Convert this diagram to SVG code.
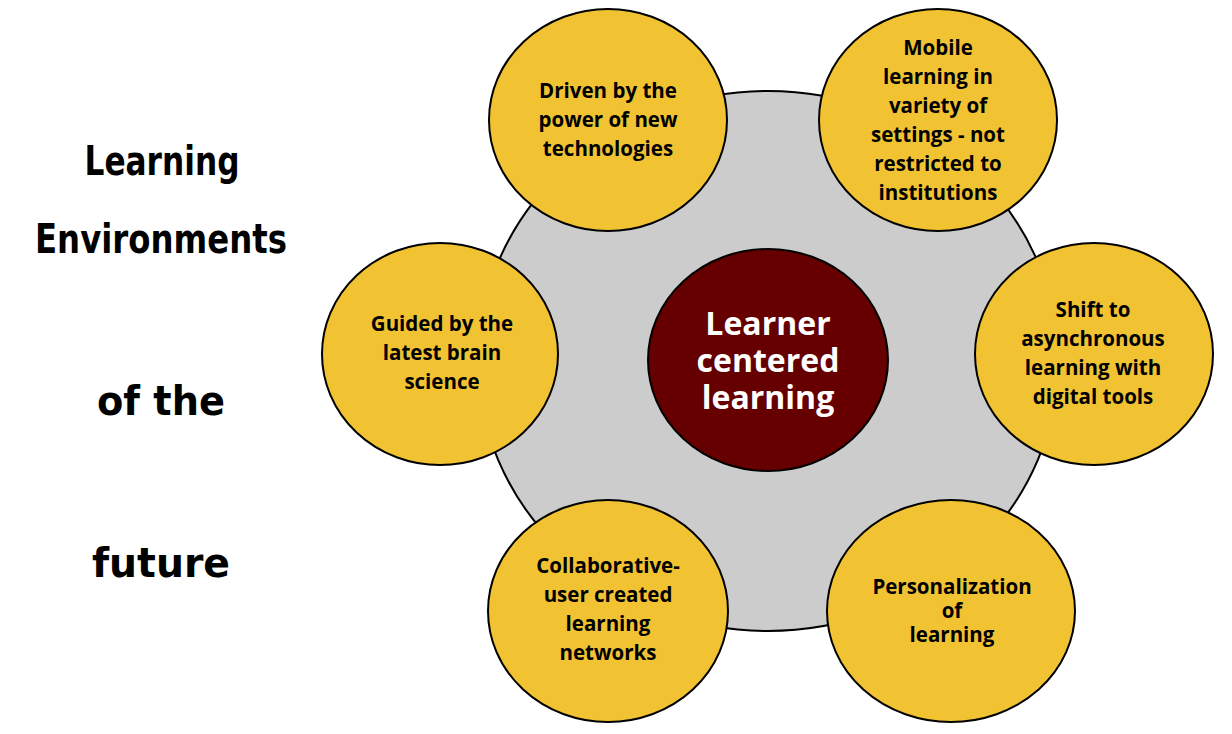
<svg xmlns="http://www.w3.org/2000/svg" width="1232" height="734" viewBox="0 0 1232 734">
  <style>
    .bg { fill: #ffffff; }
    .ring { fill: #cccccc; stroke: #000000; stroke-width: 2; }
    .core { fill: #660000; stroke: #000000; stroke-width: 2; }
    .petal { fill: #f1c232; stroke: #000000; stroke-width: 2; }
    .lbl { font-family: "Open Sans", "Noto Sans", "Liberation Sans", sans-serif; font-weight: 700; font-size: 20.5px; fill: #000000; text-anchor: middle; }
    .lbl-core { font-family: "Open Sans", "Noto Sans", "Liberation Sans", sans-serif; font-weight: 700; font-size: 32px; fill: #ffffff; text-anchor: middle; }
    .title { font-family: "DejaVu Sans", "Liberation Sans", sans-serif; font-weight: 700; font-size: 40px; fill: #000000; text-anchor: middle; }
  </style>
  <rect class="bg" x="0" y="0" width="1232" height="734"/>

  <g id="title">
    <text class="title" x="162" y="175" textLength="155" lengthAdjust="spacingAndGlyphs">Learning</text>
    <text class="title" x="161" y="253" textLength="252" lengthAdjust="spacingAndGlyphs">Environments</text>
    <text class="title" x="161" y="415" textLength="128" lengthAdjust="spacingAndGlyphs">of the</text>
    <text class="title" x="161" y="577" textLength="138" lengthAdjust="spacingAndGlyphs">future</text>
  </g>

  <g id="connectors"></g>

  <g id="backdrop">
    <ellipse class="ring" cx="768" cy="361" rx="290" ry="270"/>
  </g>

  <g id="node-center">
    <ellipse class="core" cx="768" cy="360" rx="120" ry="111"/>
    <text class="lbl-core" x="768" y="335">Learner</text>
    <text class="lbl-core" x="768" y="372">centered</text>
    <text class="lbl-core" x="768" y="409">learning</text>
  </g>

  <g id="node-driven">
    <ellipse class="petal" cx="608" cy="120" rx="119" ry="111"/>
    <text class="lbl" x="608" y="98">Driven by the</text>
    <text class="lbl" x="608" y="127">power of new</text>
    <text class="lbl" x="608" y="156">technologies</text>
  </g>

  <g id="node-mobile">
    <ellipse class="petal" cx="938" cy="120" rx="119" ry="111"/>
    <text class="lbl" x="938" y="55">Mobile</text>
    <text class="lbl" x="938" y="84">learning in</text>
    <text class="lbl" x="938" y="113">variety of</text>
    <text class="lbl" x="938" y="142">settings - not</text>
    <text class="lbl" x="938" y="171">restricted to</text>
    <text class="lbl" x="938" y="200">institutions</text>
  </g>

  <g id="node-guided">
    <ellipse class="petal" cx="440" cy="354" rx="118" ry="111"/>
    <text class="lbl" x="442" y="331">Guided by the</text>
    <text class="lbl" x="442" y="360">latest brain</text>
    <text class="lbl" x="442" y="389">science</text>
  </g>

  <g id="node-shift">
    <ellipse class="petal" cx="1094" cy="354" rx="119" ry="111"/>
    <text class="lbl" x="1093" y="317">Shift to</text>
    <text class="lbl" x="1093" y="346">asynchronous</text>
    <text class="lbl" x="1093" y="375">learning with</text>
    <text class="lbl" x="1093" y="404">digital tools</text>
  </g>

  <g id="node-collab">
    <ellipse class="petal" cx="608" cy="611" rx="120" ry="111"/>
    <text class="lbl" x="608" y="573">Collaborative-</text>
    <text class="lbl" x="608" y="602">user created</text>
    <text class="lbl" x="608" y="631">learning</text>
    <text class="lbl" x="608" y="660">networks</text>
  </g>

  <g id="node-personal">
    <ellipse class="petal" cx="951" cy="611" rx="124" ry="111"/>
    <text class="lbl" x="952" y="594">Personalization</text>
    <text class="lbl" x="952" y="618">of</text>
    <text class="lbl" x="952" y="642">learning</text>
  </g>
</svg>
